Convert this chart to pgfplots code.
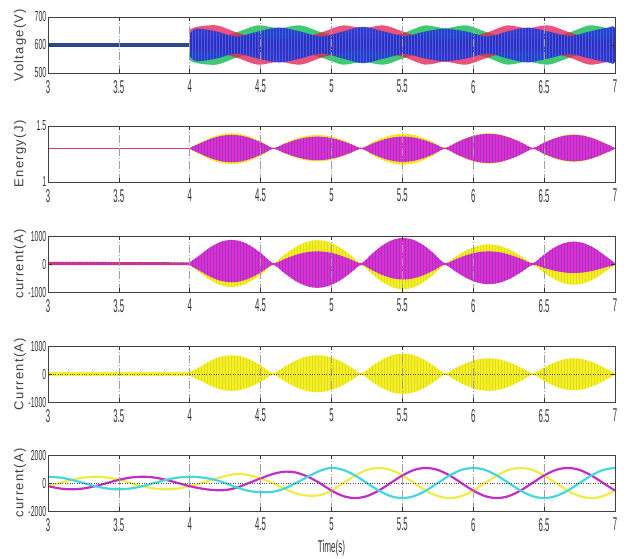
\documentclass[border=0pt]{standalone}
\usepackage{fontspec}
\setmainfont{Liberation Sans}
\newfontfamily\xtf[FakeStretch=0.42]{Liberation Sans}
\newfontfamily\ytf[FakeStretch=0.48]{Liberation Sans}
\newfontfamily\labf[LetterSpace=10]{Liberation Sans}
\usepackage{pgfplots}
\pgfplotsset{compat=1.18}
\usepackage{pgfplotstable}
\usetikzlibrary{patterns}

\definecolor{vblue}{RGB}{30,45,205}
\definecolor{vbluel}{RGB}{70,95,235}
\definecolor{vred}{RGB}{225,25,80}
\definecolor{vgreen}{RGB}{30,190,90}
\definecolor{vnavy}{RGB}{45,70,140}
\definecolor{mag}{RGB}{225,45,215}
\definecolor{magd}{RGB}{160,55,185}
\definecolor{pinkred}{RGB}{215,55,130}
\definecolor{yel}{RGB}{245,240,40}
\definecolor{yeld}{RGB}{225,220,25}
\definecolor{cyn}{RGB}{70,215,220}
\definecolor{magl}{RGB}{195,45,195}
\definecolor{yell}{RGB}{240,236,70}

% Panel 5: three-phase currents
\pgfplotstableread{
t c y m
3.0 450 -225 -225
3.0833 390 0 -390
3.1667 225 225 -450
3.25 0 390 -390
3.3333 -225 450 -225
3.4167 -390 390 0
3.5 -450 225 225
3.5833 -390 0 390
3.6667 -225 -225 450
3.75 0 -390 390
3.8333 225 -450 225
3.9167 390 -390 0
4.0 450 -225 -225
4.0833 398 0 -398
4.1667 250 250 -500
4.25 0 502 -502
4.3333 -325 650 -325
4.4167 -563 563 0
4.5 -660 330 330
4.5833 -632 0 632
4.6667 -405 -405 810
4.75 0 -745 745
4.8333 450 -900 450
4.9167 866 -866 0
5.0 1080 -540 -540
5.0833 935 0 -935
5.1667 540 540 -1080
5.25 0 935 -935
5.3333 -540 1080 -540
5.4167 -935 935 0
5.5 -1080 540 540
5.5833 -935 0 935
5.6667 -540 -540 1080
5.75 0 -935 935
5.8333 540 -1080 540
5.9167 935 -935 0
6.0 1080 -540 -540
6.0833 935 0 -935
6.1667 540 540 -1080
6.25 0 935 -935
6.3333 -540 1080 -540
6.4167 -935 935 0
6.5 -1080 540 540
6.5833 -935 0 935
6.6667 -540 -540 1080
6.75 0 -935 935
6.8333 540 -1080 540
6.9167 935 -935 0
7.0 1080 -540 -540
}\tabS

\pgfplotsset{
  panel/.style={
    scale only axis, width=567pt, height=56pt,
    xmin=3, xmax=7,
    xtick={3,3.5,4,4.5,5,5.5,6,6.5,7},
    xticklabels={3,3.5,4,4.5,5,5.5,6,6.5,7},
    xticklabel style={font=\xtf\fontsize{18.5}{18.5}\selectfont, text=black!80, inner sep=0pt, yshift=-7pt},
    yticklabel style={font=\ytf\fontsize{14.5}{14.5}\selectfont, text=black!80, inner sep=0pt, xshift=-1.5pt},
    tick align=inside, major tick length=4pt,
    tick style={black!80, line width=0.6pt},
    xmajorgrids,
    major x grid style={gray!75, line width=0.6pt, dash pattern=on 8pt off 2pt on 1pt off 2pt},
    major y grid style={black!70, line width=0.6pt, dash pattern=on 0.8pt off 1.6pt},
    axis line style={line width=0.9pt, black!75},
    axis on top,
    ylabel style={font=\labf\fontsize{13}{13}\selectfont, text=black!75, at={(axis description cs:-0.0494,0.5)}, anchor=center},
  },
  hatch/.style={postaction={pattern=vertical lines, pattern color=#1}},
}

\begin{document}
\begin{tikzpicture}
\useasboundingbox (0pt,0pt) rectangle (628pt,-558pt);

% ---------- Panel 1 ----------
\begin{axis}[panel, at={(48pt,-17pt)}, anchor=north west,
  ymin=500, ymax=700, ytick={500,600,700}, yticklabels={500,600,700},
  ylabel={Voltage(V)}]
\addplot[draw=none, fill=vnavy] coordinates {(3,606) (4,606) (4,594) (3,594)};
% green phase envelope (upper forward, lower backward)
\addplot[draw=none, fill=vgreen, fill opacity=0.85, smooth] coordinates {
(4.00,620) (4.05,625) (4.19,625) (4.33,645) (4.48,670) (4.63,660) (4.78,670) (4.93,645)
(5.08,625) (5.22,620) (5.37,625) (5.52,645) (5.66,670) (5.80,660) (5.95,670) (6.10,645)
(6.24,625) (6.38,620) (6.53,625) (6.68,645) (6.82,670) (6.95,660) (7.00,660)
(7.00,580) (6.95,580) (6.82,575) (6.68,555) (6.53,530) (6.38,540) (6.24,530) (6.10,555)
(5.95,575) (5.80,580) (5.66,575) (5.52,555) (5.37,530) (5.22,540) (5.08,530) (4.93,555)
(4.78,575) (4.63,580) (4.48,575) (4.33,555) (4.19,530) (4.05,535) (4.00,545)};
% red phase envelope
\addplot[draw=none, fill=vred, fill opacity=0.75, smooth] coordinates {
(4.00,655) (4.05,665) (4.19,670) (4.33,645) (4.48,625) (4.63,620) (4.78,625) (4.93,645)
(5.08,670) (5.22,660) (5.37,670) (5.52,645) (5.66,625) (5.80,620) (5.95,625) (6.10,645)
(6.24,670) (6.38,660) (6.53,670) (6.68,645) (6.82,625) (6.95,620) (7.00,620)
(7.00,540) (6.95,540) (6.82,530) (6.68,555) (6.53,575) (6.38,580) (6.24,575) (6.10,555)
(5.95,530) (5.80,540) (5.66,530) (5.52,555) (5.37,575) (5.22,580) (5.08,575) (4.93,555)
(4.78,530) (4.63,540) (4.48,530) (4.33,555) (4.19,575) (4.05,575) (4.00,580)};
% blue phase envelope
\addplot[draw=none, fill=vblue, fill opacity=0.88, smooth, hatch=vbluel] coordinates {
(4.00,640) (4.05,658) (4.19,648) (4.33,630) (4.48,648) (4.63,662) (4.78,648) (4.93,630)
(5.08,648) (5.22,665) (5.37,648) (5.52,632) (5.66,648) (5.80,658) (5.95,648) (6.10,630)
(6.24,648) (6.38,662) (6.53,648) (6.68,632) (6.82,648) (6.95,662) (7.00,658)
(7.00,542) (6.95,538) (6.82,552) (6.68,568) (6.53,552) (6.38,538) (6.24,552) (6.10,570)
(5.95,552) (5.80,542) (5.66,552) (5.52,568) (5.37,552) (5.22,535) (5.08,552) (4.93,570)
(4.78,552) (4.63,538) (4.48,552) (4.33,570) (4.19,552) (4.05,542) (4.00,560)};
\end{axis}

% ---------- Panel 2 ----------
\begin{axis}[panel, at={(48pt,-126pt)}, anchor=north west,
  ymin=1, ymax=1.5, ytick={1,1.5}, yticklabels={1,1.5},
  ylabel={Energy(J)}]
\addplot[draw=none, fill=pinkred] coordinates {(3.0,1.305) (4.0,1.305) (4.0,1.295) (3.0,1.295)};
\addplot[draw=none, fill=yel, smooth, hatch=yeld] coordinates {
(4.0,1.305) (4.0738,1.352) (4.1475,1.395) (4.2213,1.425) (4.295,1.435) (4.3688,1.425) (4.4425,1.395) (4.5163,1.352)
(4.59,1.304) (4.6675,1.346) (4.745,1.385) (4.8225,1.411) (4.9,1.42) (4.9775,1.411) (5.055,1.385) (5.1325,1.346)
(5.21,1.304) (5.2838,1.35) (5.3575,1.392) (5.4313,1.42) (5.505,1.43) (5.5788,1.42) (5.6525,1.392) (5.7263,1.35)
(5.80,1.304) (5.8775,1.352) (5.955,1.395) (6.0325,1.425) (6.11,1.435) (6.1875,1.425) (6.265,1.395) (6.3425,1.352)
(6.42,1.304) (6.4925,1.348) (6.565,1.388) (6.6375,1.416) (6.71,1.425) (6.7825,1.416) (6.855,1.388) (6.9275,1.348) (7.0,1.304)
(7.0,1.296) (6.9275,1.254) (6.855,1.215) (6.7825,1.189) (6.71,1.18) (6.6375,1.189) (6.565,1.215) (6.4925,1.254)
(6.42,1.296) (6.3425,1.248) (6.265,1.205) (6.1875,1.175) (6.11,1.165) (6.0325,1.175) (5.955,1.205) (5.8775,1.248)
(5.80,1.296) (5.7263,1.244) (5.6525,1.197) (5.5788,1.166) (5.505,1.155) (5.4313,1.166) (5.3575,1.197) (5.2838,1.244)
(5.21,1.296) (5.1325,1.256) (5.055,1.219) (4.9775,1.194) (4.9,1.185) (4.8225,1.194) (4.745,1.219) (4.6675,1.256)
(4.59,1.296) (4.5163,1.246) (4.4425,1.201) (4.3688,1.171) (4.295,1.16) (4.2213,1.171) (4.1475,1.201) (4.0738,1.246)
(4.0,1.295)};
\addplot[draw=none, fill=mag, smooth, hatch=magd] coordinates {
(4.0,1.304) (4.0738,1.346) (4.1475,1.385) (4.2213,1.411) (4.295,1.42) (4.3688,1.411) (4.4425,1.385) (4.5163,1.346)
(4.59,1.304) (4.6675,1.34) (4.745,1.374) (4.8225,1.397) (4.9,1.405) (4.9775,1.397) (5.055,1.374) (5.1325,1.34)
(5.21,1.304) (5.2838,1.34) (5.3575,1.374) (5.4313,1.397) (5.505,1.405) (5.5788,1.397) (5.6525,1.374) (5.7263,1.34)
(5.80,1.304) (5.8775,1.35) (5.955,1.392) (6.0325,1.42) (6.11,1.43) (6.1875,1.42) (6.265,1.392) (6.3425,1.35)
(6.42,1.304) (6.4925,1.346) (6.565,1.385) (6.6375,1.411) (6.71,1.42) (6.7825,1.411) (6.855,1.385) (6.9275,1.346) (7.0,1.304)
(7.0,1.296) (6.9275,1.256) (6.855,1.219) (6.7825,1.194) (6.71,1.185) (6.6375,1.194) (6.565,1.219) (6.4925,1.256)
(6.42,1.296) (6.3425,1.25) (6.265,1.208) (6.1875,1.18) (6.11,1.17) (6.0325,1.18) (5.955,1.208) (5.8775,1.25)
(5.80,1.296) (5.7263,1.254) (5.6525,1.215) (5.5788,1.189) (5.505,1.18) (5.4313,1.189) (5.3575,1.215) (5.2838,1.254)
(5.21,1.296) (5.1325,1.26) (5.055,1.226) (4.9775,1.203) (4.9,1.195) (4.8225,1.203) (4.745,1.226) (4.6675,1.26)
(4.59,1.296) (4.5163,1.253) (4.4425,1.213) (4.3688,1.186) (4.295,1.177) (4.2213,1.186) (4.1475,1.213) (4.0738,1.253)
(4.0,1.296)};
\node[anchor=south west, inner sep=0pt, font=\ytf\fontsize{12}{12}\selectfont, text=black!80]
  at (axis description cs:-0.0194,1) [yshift=8pt] {x 10\textsuperscript{4}};
\end{axis}

% ---------- Panel 3 ----------
\begin{axis}[panel, at={(48pt,-236pt)}, anchor=north west,
  ymin=-1000, ymax=1000, ytick={-1000,0,1000}, yticklabels={-1000,0,1000},
  ylabel={current(A)}]
\addplot[draw=none, fill=pinkred, hatch=magd] coordinates {(3.0,80) (4.0,60) (4.0,-40) (3.0,-40)};
\addplot[draw=none, fill=yel, smooth, hatch=yeld] coordinates {
(4.0,40) (4.0738,192) (4.1475,354) (4.2213,462) (4.295,500) (4.3688,462) (4.4425,354) (4.5163,192)
(4.59,30) (4.6675,326) (4.745,601) (4.8225,785) (4.9,850) (4.9775,785) (5.055,601) (5.1325,326)
(5.21,30) (5.2838,192) (5.3575,354) (5.4313,462) (5.505,500) (5.5788,462) (5.6525,354) (5.7263,192)
(5.80,30) (5.8775,268) (5.955,495) (6.0325,647) (6.11,700) (6.1875,647) (6.265,495) (6.3425,268)
(6.42,30) (6.4925,153) (6.565,283) (6.6375,370) (6.71,400) (6.7825,370) (6.855,283) (6.9275,153) (7.0,30)
(7.0,-30) (6.9275,-283) (6.855,-523) (6.7825,-684) (6.71,-740) (6.6375,-684) (6.565,-523) (6.4925,-283)
(6.42,-30) (6.3425,-192) (6.265,-354) (6.1875,-462) (6.11,-500) (6.0325,-462) (5.955,-354) (5.8775,-192)
(5.80,-30) (5.7263,-345) (5.6525,-636) (5.5788,-832) (5.505,-900) (5.4313,-832) (5.3575,-636) (5.2838,-345)
(5.21,-30) (5.1325,-192) (5.055,-354) (4.9775,-462) (4.9,-500) (4.8225,-462) (4.745,-354) (4.6675,-192)
(4.59,-30) (4.5163,-314) (4.4425,-580) (4.3688,-758) (4.295,-820) (4.2213,-758) (4.1475,-580) (4.0738,-314)
(4.0,-40)};
\addplot[draw=none, fill=mag, smooth, hatch=magd] coordinates {
(4.0,60) (4.0738,329) (4.1475,608) (4.2213,795) (4.295,860) (4.3688,795) (4.4425,608) (4.5163,329)
(4.59,30) (4.6675,172) (4.745,318) (4.8225,416) (4.9,450) (4.9775,416) (5.055,318) (5.1325,172)
(5.21,30) (5.2838,356) (5.3575,658) (5.4313,859) (5.505,930) (5.5788,859) (5.6525,658) (5.7263,356)
(5.80,30) (5.8775,172) (5.955,318) (6.0325,416) (6.11,450) (6.1875,416) (6.265,318) (6.3425,172)
(6.42,30) (6.4925,306) (6.565,566) (6.6375,739) (6.71,800) (6.7825,739) (6.855,566) (6.9275,306) (7.0,30)
(7.0,-30) (6.9275,-123) (6.855,-226) (6.7825,-296) (6.71,-320) (6.6375,-296) (6.565,-226) (6.4925,-123)
(6.42,-30) (6.3425,-276) (6.265,-509) (6.1875,-665) (6.11,-720) (6.0325,-665) (5.955,-509) (5.8775,-276)
(5.80,-30) (5.7263,-211) (5.6525,-389) (5.5788,-508) (5.505,-550) (5.4313,-508) (5.3575,-389) (5.2838,-211)
(5.21,-30) (5.1325,-326) (5.055,-601) (4.9775,-785) (4.9,-850) (4.8225,-785) (4.745,-601) (4.6675,-326)
(4.59,-30) (4.5163,-249) (4.4425,-460) (4.3688,-601) (4.295,-650) (4.2213,-601) (4.1475,-460) (4.0738,-249)
(4.0,-40)};
\end{axis}

% ---------- Panel 4 ----------
\begin{axis}[panel, at={(48pt,-346pt)}, anchor=north west,
  ymin=-1000, ymax=1000, ytick={-1000,0,1000}, yticklabels={-1000,0,1000},
  ymajorgrids, ylabel={Current(A)}]
\addplot[draw=none, fill=yel] coordinates {(3.0,70) (4.0,70) (4.0,-70) (3.0,-70)};
\addplot[draw=none, fill=yel, smooth, hatch=yeld] coordinates {
(4.0,70) (4.0738,257) (4.1475,474) (4.2213,619) (4.295,670) (4.3688,619) (4.4425,474) (4.5163,257)
(4.59,25) (4.6675,257) (4.745,474) (4.8225,619) (4.9,670) (4.9775,619) (5.055,474) (5.1325,257)
(5.21,25) (5.2838,280) (5.3575,516) (5.4313,675) (5.505,730) (5.5788,675) (5.6525,516) (5.7263,280)
(5.80,25) (5.8775,214) (5.955,396) (6.0325,517) (6.11,560) (6.1875,517) (6.265,396) (6.3425,214)
(6.42,25) (6.4925,214) (6.565,396) (6.6375,517) (6.71,560) (6.7825,517) (6.855,396) (6.9275,214) (7.0,25)
(7.0,-25) (6.9275,-222) (6.855,-410) (6.7825,-536) (6.71,-580) (6.6375,-536) (6.565,-410) (6.4925,-222)
(6.42,-25) (6.3425,-230) (6.265,-424) (6.1875,-554) (6.11,-600) (6.0325,-554) (5.955,-424) (5.8775,-230)
(5.80,-25) (5.7263,-272) (5.6525,-502) (5.5788,-656) (5.505,-710) (5.4313,-656) (5.3575,-502) (5.2838,-272)
(5.21,-25) (5.1325,-249) (5.055,-460) (4.9775,-601) (4.9,-650) (4.8225,-601) (4.745,-460) (4.6675,-249)
(4.59,-25) (4.5163,-230) (4.4425,-424) (4.3688,-554) (4.295,-600) (4.2213,-554) (4.1475,-424) (4.0738,-230)
(4.0,-70)};
\end{axis}

% ---------- Panel 5 ----------
\begin{axis}[panel, at={(48pt,-455pt)}, anchor=north west,
  ymin=-2000, ymax=2000, ytick={-2000,0,2000}, yticklabels={-2000,0,2000},
  ymajorgrids, ylabel={current(A)},
  xlabel={Time(s)},
  xlabel style={font=\ytf\fontsize{17}{17}\selectfont, text=black!80, at={(axis description cs:0.5,0)}, anchor=center, yshift=-37pt}]
\addplot[yell, line width=2.2pt, smooth] table[x=t, y=y] {\tabS};
\addplot[magl, line width=2.2pt, smooth] table[x=t, y=m] {\tabS};
\addplot[cyn, line width=2.2pt, smooth] table[x=t, y=c] {\tabS};
\end{axis}
\end{tikzpicture}
\end{document}
